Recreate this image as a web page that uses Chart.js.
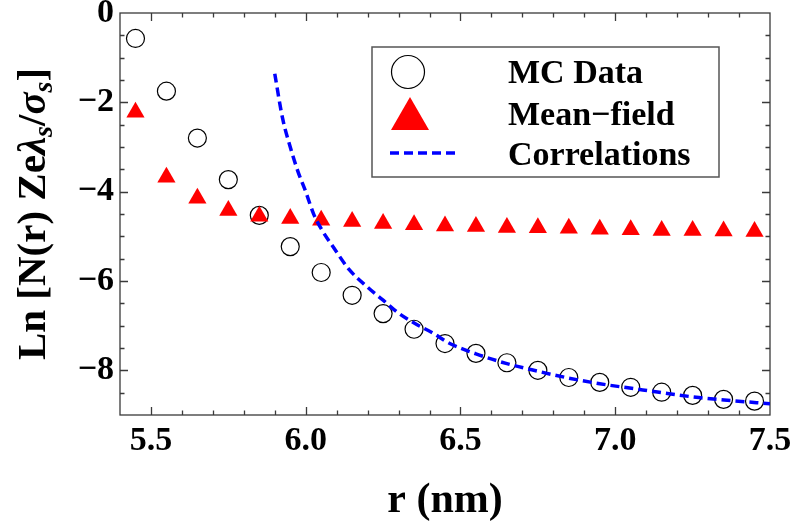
<!DOCTYPE html>
<html>
<head>
<meta charset="utf-8">
<script src="https://cdn.jsdelivr.net/npm/chart.js@4"></script>
<style>
  html, body { margin: 0; background: #fff; }
  #wrap { width: 795px; height: 527px; }
</style>
</head>
<body>
<div id="wrap"><canvas id="c"></canvas></div>
<script>
// radial positions of the MC bins (nm)
const rValues = [5.45, 5.55, 5.65, 5.75, 5.85, 5.95, 6.05, 6.15, 6.25, 6.35, 6.45,
                 6.55, 6.65, 6.75, 6.85, 6.95, 7.05, 7.15, 7.25, 7.35, 7.45];
const mcData = [-0.57, -1.75, -2.80, -3.73, -4.53, -5.23, -5.81, -6.32, -6.73, -7.08, -7.40,
                -7.62, -7.83, -8.00, -8.16, -8.27, -8.38, -8.49, -8.56, -8.65, -8.69];
const meanField = [-2.22, -3.68, -4.15, -4.42, -4.55, -4.60, -4.64, -4.67, -4.71, -4.74, -4.77,
                   -4.78, -4.80, -4.81, -4.82, -4.84, -4.85, -4.87, -4.87, -4.88, -4.89];
// correlation-theory curve
const corrR  = [5.90, 5.925, 5.95, 5.975, 6.00, 6.025, 6.05, 6.09, 6.14, 6.20, 6.25, 6.30,
                6.36, 6.41, 6.46, 6.55, 6.65, 6.75, 6.84, 6.95, 7.06, 7.15, 7.27, 7.38, 7.50];
const corrLn = [-1.36, -2.35, -3.00, -3.55, -4.00, -4.49, -4.83, -5.25, -5.74, -6.14, -6.43, -6.72,
                -6.98, -7.16, -7.38, -7.63, -7.85, -8.02, -8.16, -8.30, -8.41, -8.50, -8.61, -8.68, -8.75];
const xTicks = [5.5, 6.0, 6.5, 7.0, 7.5];
const yTicks = [0, -2, -4, -6, -8];
const seriesNames = ['MC Data', 'Mean\u2212field', 'Correlations'];

const SERIF = "'Liberation Serif', 'Times New Roman', serif";
const BLUE = '#0000ff', RED = '#ff0000';
const pts = (xs, ys) => xs.map((x, i) => ({ x, y: ys[i] }));

Chart.defaults.font.family = SERIF;

// box frame with inward ticks on all four sides
const frame = {
  id: 'frame',
  beforeDatasetsDraw(chart) {
    const { ctx, chartArea: a, scales: { x, y } } = chart;
    ctx.save();
    ctx.strokeStyle = '#3a3a3a';
    ctx.lineWidth = 1.3;
    ctx.beginPath();
    for (let k = 55; k < 75; k++) {
      const px = Math.round(x.getPixelForValue(k / 10)) + 0.5;
      const len = k % 5 === 0 ? 8 : 4.5;
      ctx.moveTo(px, a.bottom); ctx.lineTo(px, a.bottom - len);
      ctx.moveTo(px, a.top); ctx.lineTo(px, a.top + len);
    }
    for (let k = -17; k < 0; k++) {
      const py = Math.round(y.getPixelForValue(k / 2)) + 0.5;
      const len = k % 4 === 0 ? 8 : 4.5;
      ctx.moveTo(a.left, py); ctx.lineTo(a.left + len, py);
      ctx.moveTo(a.right, py); ctx.lineTo(a.right - len, py);
    }
    ctx.stroke();
    ctx.strokeRect(a.left, a.top, a.right - a.left, a.bottom - a.top);
    ctx.restore();
  }
};

// axis titles (y title carries greek symbols and subscripts)
const titles = {
  id: 'titles',
  afterDraw(chart) {
    const { ctx, chartArea: a } = chart;
    ctx.save();
    ctx.fillStyle = '#000';
    ctx.textBaseline = 'alphabetic';
    ctx.textAlign = 'center';
    ctx.font = `bold 42px ${SERIF}`;
    ctx.fillText('r (nm)', (a.left + a.right) / 2, 512);

    const segs = [
      ['Ln [N(r) Ze', 'bold', false],
      ['\u03bb', 'italic bold', false],
      ['s', 'italic bold', true],
      ['/', 'bold', false],
      ['\u03c3', 'italic bold', false],
      ['s', 'italic bold', true],
      [']', 'bold', false]
    ];
    const fontOf = ([, style, sub]) => `${style} ${sub ? 28 : 41}px ${SERIF}`;
    let total = 0;
    segs.forEach(s => { ctx.font = fontOf(s); total += ctx.measureText(s[0]).width; });
    ctx.translate(45, (a.top + a.bottom) / 2);
    ctx.rotate(-Math.PI / 2);
    ctx.textAlign = 'left';
    let cx = -total / 2;
    segs.forEach(s => {
      ctx.font = fontOf(s);
      ctx.fillText(s[0], cx, s[2] ? 7 : 0);
      cx += ctx.measureText(s[0]).width;
    });
    ctx.restore();
  }
};

// framed legend inside the plot
const legendBox = {
  id: 'legendBox',
  afterDraw(chart) {
    const { ctx } = chart;
    ctx.save();
    ctx.fillStyle = '#fff';
    ctx.fillRect(372, 47, 347, 130);
    ctx.strokeStyle = '#555';
    ctx.lineWidth = 1.5;
    ctx.strokeRect(372, 47, 347, 130);

    ctx.strokeStyle = '#000'; ctx.lineWidth = 1.2;
    ctx.beginPath(); ctx.arc(408, 72, 16.5, 0, Math.PI * 2); ctx.stroke();

    ctx.fillStyle = RED;
    ctx.beginPath();
    ctx.moveTo(410, 97); ctx.lineTo(429, 130); ctx.lineTo(391, 130);
    ctx.closePath(); ctx.fill();

    ctx.strokeStyle = BLUE; ctx.lineWidth = 3.5;
    ctx.setLineDash([9, 5]);
    ctx.beginPath(); ctx.moveTo(390, 153); ctx.lineTo(455, 153); ctx.stroke();
    ctx.setLineDash([]);

    ctx.fillStyle = '#000';
    ctx.font = `bold 34px ${SERIF}`;
    ctx.textAlign = 'left';
    ctx.textBaseline = 'alphabetic';
    [83, 125, 165].forEach((b, i) => ctx.fillText(seriesNames[i], 508, b));
    ctx.restore();
  }
};

const tickFont = { family: SERIF, size: 34, weight: 'bold' };

new Chart(document.getElementById('c'), {
  type: 'scatter',
  data: {
    datasets: [
      {
        label: seriesNames[2], type: 'line', data: pts(corrR, corrLn), order: 0,
        borderColor: BLUE, borderWidth: 3.5, borderDash: [9, 5], pointRadius: 0,
        fill: false, cubicInterpolationMode: 'monotone'
      },
      {
        label: seriesNames[1], data: pts(rValues, meanField), order: 1,
        pointStyle: 'triangle', pointRadius: 10.5, backgroundColor: RED,
        borderColor: RED, borderWidth: 0
      },
      {
        label: seriesNames[0], data: pts(rValues, mcData), order: 2,
        pointStyle: 'circle', pointRadius: 9, backgroundColor: 'rgba(0,0,0,0)',
        borderColor: '#000', borderWidth: 1.2
      }
    ]
  },
  options: {
    responsive: true, maintainAspectRatio: false, animation: false,
    layout: { padding: { top: 13, right: 25, left: 0, bottom: 0 } },
    plugins: { legend: { display: false }, tooltip: { enabled: false } },
    scales: {
      x: {
        type: 'linear', min: 5.4, max: 7.5,
        grid: { display: false, drawTicks: false }, border: { display: false },
        ticks: { font: tickFont, color: '#000', padding: 6, maxRotation: 0,
                 callback: v => v.toFixed(1) },
        afterBuildTicks: s => { s.ticks = xTicks.map(value => ({ value })); },
        afterFit: s => { s.height = 112; s.paddingLeft = 0; s.paddingRight = 0; }
      },
      y: {
        type: 'linear', min: -9, max: 0,
        grid: { display: false, drawTicks: false }, border: { display: false },
        ticks: { font: tickFont, color: '#000', padding: 6,
                 callback: v => v === 0 ? '0' : '\u2212' + Math.abs(v) },
        afterBuildTicks: s => { s.ticks = yTicks.map(value => ({ value })); },
        afterFit: s => { s.width = 120; s.paddingTop = 0; s.paddingBottom = 0; }
      }
    }
  },
  plugins: [frame, titles, legendBox]
});
</script>
</body>
</html>
